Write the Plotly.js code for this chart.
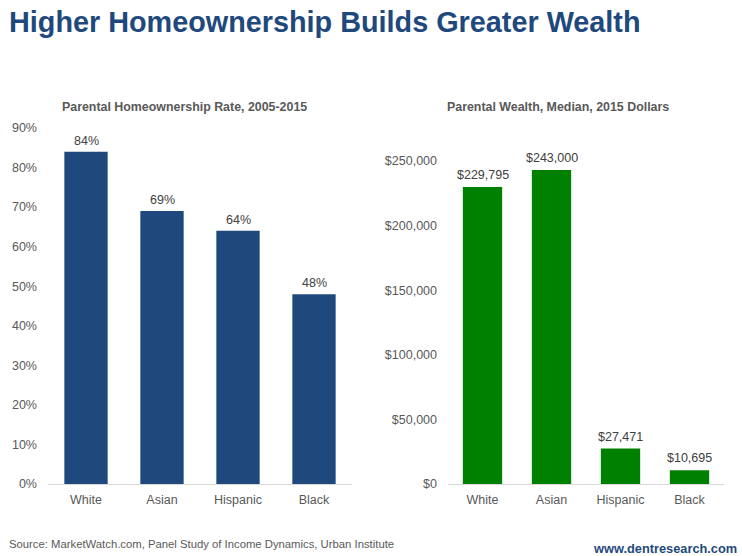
<!DOCTYPE html>
<html>
<head>
<meta charset="utf-8">
<script src="https://cdn.plot.ly/plotly-3.0.1.min.js"></script>
<style>html,body{margin:0;padding:0;background:#fff;}#chart{width:742px;height:556px;}</style>
</head>
<body>
<div id="chart"></div>
<script>
var categories = ['White', 'Asian', 'Hispanic', 'Black'];
var homeownershipRate = [0.84, 0.69, 0.64, 0.48];
var homeownershipLabels = ['84%', '69%', '64%', '48%'];
var parentalWealth = [229795, 243000, 27471, 10695];
var wealthLabels = ['$229,795', '$243,000', '$27,471', '$10,695'];

var mainTitle = 'Higher Homeownership Builds Greater Wealth';
var leftTitle = 'Parental Homeownership Rate, 2005-2015';
var rightTitle = 'Parental Wealth, Median, 2015 Dollars';
var sourceText = 'Source: MarketWatch.com, Panel Study of Income Dynamics, Urban Institute';
var siteText = 'www.dentresearch.com';

var W = 742, H = 556;
function px(x) { return x / W; }
function py(y) { return (H - y) / H; }

var FONT = '"Liberation Sans", Arial, sans-serif';
var tickFont = {family: FONT, size: 12.5, color: '#595959'};

var traces = [
  {type: 'bar', x: categories, y: homeownershipRate, xaxis: 'x', yaxis: 'y',
   marker: {color: '#1F497D'}, hoverinfo: 'none'},
  {type: 'bar', x: categories, y: parentalWealth, xaxis: 'x2', yaxis: 'y2',
   marker: {color: '#008000'}, hoverinfo: 'none'}
];

var annotations = [];
categories.forEach(function (c, i) {
  annotations.push({xref: 'x', yref: 'y', x: c, y: homeownershipRate[i], text: homeownershipLabels[i],
    showarrow: false, yanchor: 'bottom', yshift: 2, font: {family: FONT, size: 12.5, color: '#404040'}});
  annotations.push({xref: 'x2', yref: 'y2', x: c, y: parentalWealth[i], text: wealthLabels[i],
    showarrow: false, yanchor: 'bottom', yshift: 3, font: {family: FONT, size: 12.5, color: '#404040'}});
});
annotations.push({xref: 'paper', yref: 'paper', x: px(7), y: py(22), xanchor: 'left', yanchor: 'middle',
  text: '<b>' + mainTitle + '</b>', showarrow: false, font: {family: FONT, size: 28.8, color: '#1F497D'}});
annotations.push({xref: 'paper', yref: 'paper', x: px(184), y: py(107), xanchor: 'center', yanchor: 'middle',
  text: '<b>' + leftTitle + '</b>', showarrow: false, font: {family: FONT, size: 12.4, color: '#595959'}});
annotations.push({xref: 'paper', yref: 'paper', x: px(558), y: py(107), xanchor: 'center', yanchor: 'middle',
  text: '<b>' + rightTitle + '</b>', showarrow: false, font: {family: FONT, size: 12.4, color: '#595959'}});
annotations.push({xref: 'paper', yref: 'paper', x: px(7), y: py(544), xanchor: 'left', yanchor: 'middle',
  text: sourceText, showarrow: false, font: {family: FONT, size: 11.3, color: '#595959'}});
annotations.push({xref: 'paper', yref: 'paper', x: px(739), y: py(548), xanchor: 'right', yanchor: 'middle',
  text: '<b>' + siteText + '</b>', showarrow: false, font: {family: FONT, size: 12.8, color: '#1F497D'}});

var layout = {
  width: W, height: H,
  margin: {l: 0, r: 0, t: 0, b: 0},
  paper_bgcolor: '#ffffff', plot_bgcolor: '#ffffff',
  showlegend: false,
  bargap: 0.43,
  xaxis: {domain: [px(48), px(352)], anchor: 'y', showline: true, linecolor: '#D9D9D9', linewidth: 1,
    showgrid: false, zeroline: false, tickfont: tickFont, ticks: '', ticklabelstandoff: 4, fixedrange: true},
  yaxis: {domain: [py(484), py(128)], anchor: 'x', range: [0, 0.9], dtick: 0.1, tickformat: '.0%',
    showgrid: false, zeroline: false, showline: false, tickfont: tickFont, ticks: '', ticklabelstandoff: 10, fixedrange: true},
  xaxis2: {domain: [px(448), px(724)], anchor: 'y2', showline: true, linecolor: '#D9D9D9', linewidth: 1,
    showgrid: false, zeroline: false, tickfont: tickFont, ticks: '', ticklabelstandoff: 4, fixedrange: true},
  yaxis2: {domain: [py(484), py(161)], anchor: 'x2', range: [0, 250000], dtick: 50000, tickprefix: '$', tickformat: ',d',
    showgrid: false, zeroline: false, showline: false, tickfont: tickFont, ticks: '', ticklabelstandoff: 10, fixedrange: true},
  annotations: annotations
};

Plotly.newPlot('chart', traces, layout, {displayModeBar: false, staticPlot: true});
</script>
</body>
</html>
